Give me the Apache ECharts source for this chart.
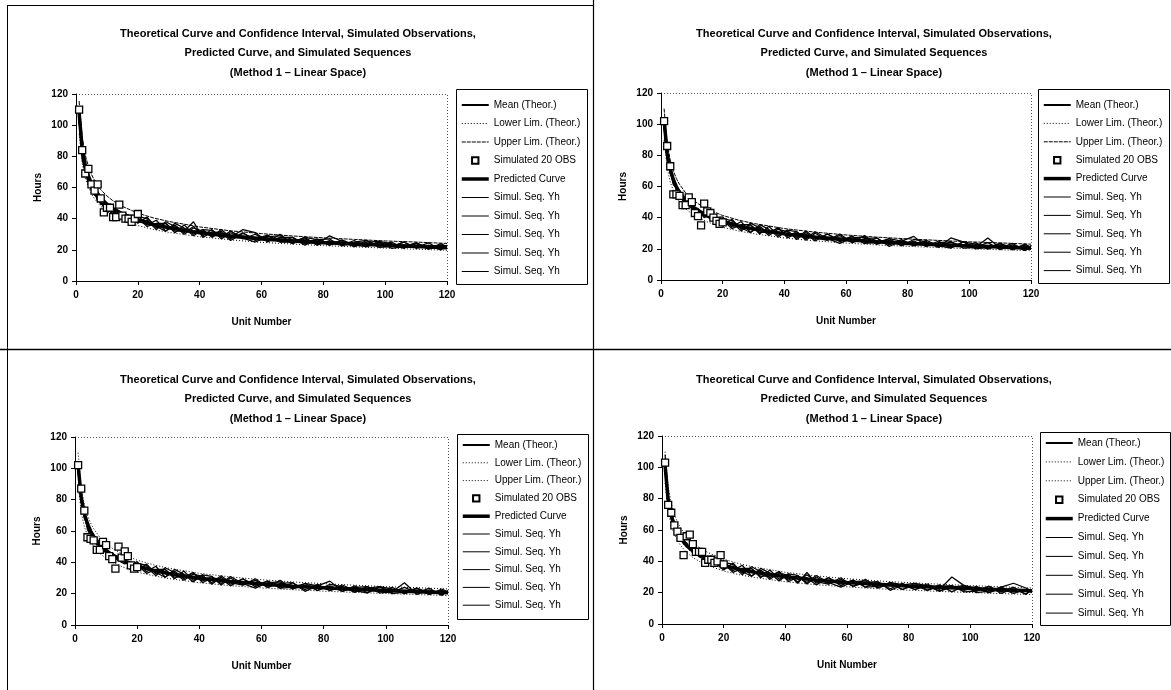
<!DOCTYPE html>
<html><head><meta charset="utf-8">
<script src="https://cdn.jsdelivr.net/npm/echarts@6/dist/echarts.min.js"></script>
<style>html,body{margin:0;padding:0;background:#fff}#c{width:1171px;height:690px}</style>
</head><body><div id="c"></div>
<script>
// ---------- DATA ----------
const xTicks = [0, 20, 40, 60, 80, 100, 120];
const yTicks = [0, 20, 40, 60, 80, 100, 120];
const theoX = [1,2,3,4,5,6,8,10,12,15,20,25,30,40,50,60,70,80,90,100,110,120];
const obsX = [1,2,3,4,5,6,7,8,9,10,11,12,13,14,15,16,17,18,19,20];
const seqX = [1,2,3,4,5,6,7,8,9,10,12,14,16,18,20,23,26,29,32,35,38,41,44,47,50,54,58,62,66,70,74,78,82,86,90,94,98,102,106,110,114,118,120];

const legendLabels = ['Mean (Theor.)','Lower Lim. (Theor.)','Upper Lim. (Theor.)','Simulated 20 OBS','Predicted Curve','Simul. Seq. Yh','Simul. Seq. Yh','Simul. Seq. Yh','Simul. Seq. Yh','Simul. Seq. Yh'];
const chartTitle = 'Theoretical Curve and Confidence Interval, Simulated Observations,\nPredicted Curve, and Simulated Sequences\n(Method 1 \u2013 Linear Space)';

// Panel 1 (top left)
const mean1  = [105,83.8,73.4,66.9,62.2,58.6,53.3,49.6,46.7,43.5,39.5,36.8,34.7,31.5,29.3,27.6,26.3,25.2,24.3,23.4,22.7,21.9];
const lower1 = [94.5,75.4,66.1,60.2,56.0,52.7,48.0,44.6,42.0,39.2,35.6,33.1,31.2,28.4,26.4,24.8,23.7,22.7,21.9,21.1,20.4,19.7];
const upper1 = [115.5,92.2,80.7,73.6,68.4,64.5,58.6,54.6,51.4,47.9,43.5,40.5,38.2,34.7,32.2,30.4,28.9,27.7,26.7,25.7,25.0,24.1];
const pred1  = [108,85,74,67.5,62.5,58.8,53.2,49.3,46.3,43.0,39.0,36.2,34.1,30.9,28.7,27.0,25.7,24.6,23.7,22.9,22.1,21.4];
const obs1   = [110,84,69,72,62,58,62,53,44,47,47,41,41,49,42,40,40,38,40,43];
const seq1a = [108,84,72,66,61,56,55,50,49,46,45,41,42,38, 42,36,39,32,36,31,35,29,33,27,31,27,30,25,30,24,28,23,26,23,26,22,25,22,25,21,23,20,23];
const seq1b = [104,80,70,63,60,57,52,52,47,48,43,43,39,40, 37,41,34,37,31,36,30,33,28,32,27,31,26,29,25,28,24,27,23,26,22,26,22.5,25,21,24,20.5,23,21];
const seq1c = [110,83,74,64,58,55,54,49,50,46,46,40,41,37, 40.5,35,37,37,32,32,38,28,31.5,31,26,30.5,27,29.5,25,25,28,26.5,23,26.5,23,22,25.5,24,21,24.5,21.5,23,22];
const seq1d = [103,78,69,65,62,58,51,51,48,49,44,43,38,39, 37.5,39,33,38,35,30,34,32,28.5,33,28,33,31,25.5,28,28,23,26.5,27,22.5,25,26,21.5,22,25,21.5,24.5,20,23];
const seq1e = [107,81,71,62,59,56,53,50,48,47,42,42,40,37, 41.5,40,35,32,37,34,29,33,32.5,28,32,27.5,25,28.5,29,24,27,23.5,29,25.5,22,25,25.5,21,22,24.5,20.5,24,22];

// Panel 2 (top right)
const mean2  = [100,79.8,69.9,63.7,59.2,55.8,50.8,47.2,44.5,41.4,37.6,35.0,33.0,30.0,27.9,26.3,25.0,24.0,23.1,22.3,21.6,20.9];
const lower2 = [90,71.8,62.9,57.3,53.3,50.2,45.7,42.5,40.1,37.3,33.8,31.5,29.7,27.0,25.1,23.7,22.5,21.6,20.8,20.1,19.4,18.8];
const upper2 = [110,87.8,76.9,70.1,65.1,61.4,55.9,51.9,49.0,45.5,41.4,38.5,36.3,33.0,30.7,28.9,27.5,26.4,25.4,24.5,23.8,23.0];
const pred2  = [103,81,71,64.5,59.8,56.2,51,47.3,44.5,41.3,37.4,34.7,32.7,29.6,27.5,25.9,24.6,23.5,22.6,21.8,21.1,20.4];
const obs2   = [102,86,73,55,55,54,48,48,53,50,43,41,35,49,44,43,40,38,36,37];
const seq2a = [102,81,71,61,60,54,53,49,50,45,45,40,42,37, 34.5,39,32.5,35.5,29.5,34.5,28.5,32,26,30.5,26,29.5,24.5,28,23.5,27,22.5,26,22,24.5,21,24.5,21.5,24,20,22.5,19.5,22,20];
const seq2b = [98,78,68,65,57,57,51,52,47,48,43,43,39,40, 38.5,33,35.5,35.5,30.5,30.5,33.5,27,30,29.5,25,29.5,25.5,28,23.5,24,26.5,25,22,25.5,22,20.5,24.5,23,20,23.5,20.5,22,21];
const seq2c = [104,82,70,63,61,55,54,50,48,47,46,42,41,38, 35.5,37,31.5,36.5,33.5,28.5,32.5,31,27,31.5,27,25.5,29.5,24,26.5,27,21.5,25,28,21.5,24,24.5,20.5,21,27,20.5,23.5,19,22];
const seq2d = [99,77,72,64,58,56,52,51,49,46,44,43,40,39, 39.5,38,33.5,30.5,35.5,32.5,27.5,32,31,26.5,31,26.5,23.5,27,27.5,23,25.5,22,26,24.5,21,27,24.5,20,21,23.5,19.5,23,21];
const seq2e = [100,80,69,62,59,55,53,50,48,48,44,41,40,40, 40.5,34,37.5,30.5,34.5,29.5,33.5,28,31,25.5,30,25.5,28.5,24,28.5,23,26.5,22,25,21.5,25,20.5,24.5,21,24,19.5,22.5,19,22];

// Panel 3 (bottom left)
const mean3  = [100,79.8,69.9,63.7,59.2,55.8,50.8,47.2,44.5,41.4,37.6,35.0,33.0,30.0,27.9,26.3,25.0,24.0,23.1,22.3,21.6,20.9];
const lower3 = [90,71.8,62.9,57.3,53.3,50.2,45.7,42.5,40.1,37.3,33.8,31.5,29.7,27.0,25.1,23.7,22.5,21.6,20.8,20.1,19.4,18.8];
const upper3 = [110,87.8,76.9,70.1,65.1,61.4,55.9,51.9,49.0,45.5,41.4,38.5,36.3,33.0,30.7,28.9,27.5,26.4,25.4,24.5,23.8,23.0];
const pred3  = [102,81.5,71.2,64.8,60,56.5,51.3,47.6,44.8,41.6,37.7,35,32.9,29.9,27.7,26.1,24.8,23.7,22.8,22,21.3,20.6];
const obs3   = [102,87,73,56,55,54,48,48,53,51,44,42,36,50,43,47,44,38,36,37];
const seq3a = [101,79,70,62,59,56,52,50,49,47,45,42,40,39, 38.5,33,35.5,35.5,30.5,30.5,33.5,27,30,29.5,25,29.5,25.5,28,23.5,24,26.5,25,22,25.5,22,20.5,24.5,23,20,23.5,20.5,22,21];
const seq3b = [99,81,69,65,58,55,54,49,48,46,43,43,41,37, 35.5,37,31.5,36.5,33.5,28.5,32.5,31,27,31.5,27,25.5,29.5,24,26.5,27,21.5,25,28,21.5,24,24.5,20.5,21,24,20.5,23.5,19,22];
const seq3c = [103,78,71,63,60,57,51,52,47,48,44,41,39,40, 39.5,38,33.5,30.5,35.5,32.5,27.5,32,31,26.5,31,26.5,23.5,27,27.5,23,25.5,22,26,24.5,21,23.5,24.5,20,21,23.5,19.5,23,21];
const seq3d = [100,80,68,64,61,54,53,51,50,45,46,42,42,38, 40.5,34,37.5,30.5,34.5,29.5,33.5,28,31,25.5,30,25.5,28.5,24,28.5,23,26.5,22,25,21.5,25,20.5,24.5,21,27,19.5,22.5,19,22];
const seq3e = [97,82,72,61,57,56,52,50,48,47,43,44,40,39, 34.5,39,32.5,35.5,29.5,34.5,28.5,32,26,30.5,26,29.5,24.5,28,23.5,27,22.5,26,22,24.5,21,24.5,21.5,24,20,22.5,19.5,22,20];

// Panel 4 (bottom right)
const mean4  = [100,79.8,69.9,63.7,59.2,55.8,50.8,47.2,44.5,41.4,37.6,35.0,33.0,30.0,27.9,26.3,25.0,24.0,23.1,22.3,21.6,20.9];
const lower4 = [90,71.8,62.9,57.3,53.3,50.2,45.7,42.5,40.1,37.3,33.8,31.5,29.7,27.0,25.1,23.7,22.5,21.6,20.8,20.1,19.4,18.8];
const upper4 = [110,87.8,76.9,70.1,65.1,61.4,55.9,51.9,49.0,45.5,41.4,38.5,36.3,33.0,30.7,28.9,27.5,26.4,25.4,24.5,23.8,23.0];
const pred4  = [101,79,69,62.5,58,54.8,50,46.6,44,41,37.4,34.9,33,30.1,28.1,26.5,25.3,24.3,23.4,22.6,21.9,21.2];
const obs4   = [103,76,71,63,59,55,44,56,57,51,46,46,46,39,41,41,39,40,44,38];
const seq4a = [108,80,70,63,59,55,53,51,48,47,45,42,41,39, 35.5,37,31.5,36.5,33.5,28.5,32.5,31,27,31.5,27,25.5,29.5,24,26.5,27,21.5,25,26,21.5,24,24.5,20.5,21,24,20.5,23.5,19,22];
const seq4b = [100,79,71,64,58,57,52,50,49,46,44,43,39,39, 40.5,34,37.5,30.5,34.5,29.5,33.5,28,31,25.5,30,25.5,28.5,24,28.5,23,26.5,22,25,21.5,25,20.5,24.5,21,24,19.5,22.5,19,22];
const seq4c = [102,82,68,62,60,55,54,49,50,48,43,41,42,38, 34.5,39,32.5,35.5,29.5,34.5,28.5,32,26,33,26,29.5,24.5,28,23.5,27,22.5,26,22,24.5,21,24.5,21.5,24,20,22.5,19.5,22,20];
const seq4d = [99,78,72,65,57,56,51,52,47,47,46,43,40,40, 38.5,33,35.5,35.5,30.5,30.5,33.5,27,30,29.5,25,29.5,25.5,28,23.5,24,26.5,25,22,25.5,22,30,24.5,23,20,23.5,20.5,22,21];
const seq4e = [101,80,69,63,61,54,53,50,49,45,44,42,40,37, 39.5,38,33.5,30.5,35.5,32.5,27.5,32,31,26.5,31,26.5,23.5,27,27.5,23,25.5,22,26,24.5,21,23.5,24.5,20,21,23.5,26,23,21];

// ---------- LAYOUT ----------
const FONT = '"Liberation Sans",Arial,sans-serif';
const panels = [
  {grid:{left:76,top:94,width:371,height:187}, box:[456,89,131,195], lg:[99,6.5], tx:298, ty:24, upperDash:[4,1],
   mean:mean1, lower:lower1, upper:upper1, pred:pred1, obs:obs1, seqs:[seq1a,seq1b,seq1c,seq1d,seq1e]},
  {grid:{left:661,top:93,width:370,height:187}, box:[1038,89,131,194], lg:[99,6.4], tx:874, ty:24, upperDash:[4,1],
   mean:mean2, lower:lower2, upper:upper2, pred:pred2, obs:obs2, seqs:[seq2a,seq2b,seq2c,seq2d,seq2e]},
  {grid:{left:75,top:437,width:373,height:188}, box:[457,434,131,185], lg:[439,5.8], tx:298, ty:370, upperDash:[1,2],
   mean:mean3, lower:lower3, upper:upper3, pred:pred3, obs:obs3, seqs:[seq3a,seq3b,seq3c,seq3d,seq3e]},
  {grid:{left:662,top:436,width:370,height:188}, box:[1040,432,130,193], lg:[437,6.9], tx:874, ty:370, upperDash:[1,2],
   mean:mean4, lower:lower4, upper:upper4, pred:pred4, obs:obs4, seqs:[seq4a,seq4b,seq4c,seq4d,seq4e]}
];

const pairs = (xs, ys) => ys.map((y, i) => [xs[i], y]);
const grids = [], xAxes = [], yAxes = [], series = [], legends = [], titles = [], graphics = [];
const txt = {color:'#000', fontFamily:FONT, fontWeight:'bold'};

panels.forEach((P, p) => {
  grids.push(Object.assign({outerBoundsMode:'none', containLabel:false}, P.grid));
  xAxes.push({type:'value', gridIndex:p, min:xTicks[0], max:xTicks[xTicks.length-1], interval:xTicks[1]-xTicks[0],
    axisLine:{onZero:false, lineStyle:{color:'#000', width:1}}, axisTick:{length:4, lineStyle:{color:'#000'}},
    splitLine:{show:false}, axisLabel:Object.assign({fontSize:10, margin:9}, txt),
    name:'Unit Number', nameLocation:'middle', nameGap:36, nameTextStyle:Object.assign({fontSize:10}, txt)});
  yAxes.push({type:'value', gridIndex:p, min:yTicks[0], max:yTicks[yTicks.length-1], interval:yTicks[1]-yTicks[0],
    axisLine:{onZero:false, lineStyle:{color:'#000', width:1}}, axisTick:{length:4, lineStyle:{color:'#000'}},
    splitLine:{show:false}, axisLabel:Object.assign({fontSize:10, margin:8}, txt),
    name:'Hours', nameLocation:'middle', nameGap:33, nameRotate:90, nameTextStyle:Object.assign({fontSize:10}, txt)});

  const nm = k => legendLabels[k] + '#' + p + '_' + k;
  const base = {type:'line', xAxisIndex:p, yAxisIndex:p, symbol:'none', silent:true, animation:false};
  P.seqs.forEach((s, j) => {
    series.push(Object.assign({}, base, {name:nm(5+j), data:pairs(seqX, s), z:2,
      lineStyle:{color:'#000', width:1.25}, itemStyle:{color:'#000'}}));
  });
  series.push(Object.assign({}, base, {name:nm(0), data:pairs(theoX, P.mean), z:3,
    lineStyle:{color:'#000', width:2}, itemStyle:{color:'#000'}}));
  series.push(Object.assign({}, base, {name:nm(1), data:pairs(theoX, P.lower), z:3,
    lineStyle:{color:'#000', width:1, type:[1,2]}, itemStyle:{color:'#000'}}));
  series.push(Object.assign({}, base, {name:nm(2), data:pairs(theoX, P.upper), z:3,
    lineStyle:{color:'#000', width:1, type:P.upperDash}, itemStyle:{color:'#000'}}));
  series.push(Object.assign({}, base, {name:nm(4), data:pairs(theoX, P.pred), z:4,
    lineStyle:{color:'#000', width:3.5}, itemStyle:{color:'#000'}}));
  series.push(Object.assign({}, base, {name:nm(3), data:pairs(obsX, P.obs), z:5,
    symbol:'rect', symbolSize:7, showSymbol:true,
    lineStyle:{color:'#000', width:0, opacity:0},
    itemStyle:{color:'#fff', borderColor:'#000', borderWidth:1.3}}));

  const legendLine = [
    {width:2, type:'solid'}, {width:1, type:[1,2]}, {width:1, type:P.upperDash}, null,
    {width:3.5, type:'solid'}, {width:1, type:'solid'}, {width:1, type:'solid'}, {width:1, type:'solid'},
    {width:1, type:'solid'}, {width:1, type:'solid'}];
  legends.push({orient:'vertical', left:P.box[0]+4, top:P.lg[0], itemWidth:27, itemHeight:8, itemGap:P.lg[1],
    padding:0, selectedMode:false,
    textStyle:{color:'#000', fontFamily:FONT, fontSize:10, lineHeight:12},
    formatter: n => n.split('#')[0],
    data: legendLabels.map((_, k) => {
      const d = {name:nm(k)};
      if (k === 3) d.lineStyle = {opacity:0, width:0};
      else { d.itemStyle = {opacity:0}; d.lineStyle = Object.assign({color:'#000'}, legendLine[k]); }
      return d;
    })});

  titles.push({text:chartTitle, left:P.tx, top:P.ty, textAlign:'center', padding:0,
    textStyle:{color:'#000', fontFamily:FONT, fontWeight:'bold', fontSize:11, lineHeight:19.5}});

  graphics.push({type:'rect', silent:true, shape:{x:P.box[0]+0.5, y:P.box[1]+0.5, width:P.box[2], height:P.box[3]},
    style:{fill:'none', stroke:'#000', lineWidth:1}});
  const g = P.grid;
  graphics.push({type:'polyline', silent:true, shape:{points:[[g.left, g.top+0.5],[g.left+g.width+0.5, g.top+0.5],[g.left+g.width+0.5, g.top+g.height]]},
    style:{fill:'none', stroke:'#555', lineWidth:1, lineDash:[1,2]}});
});

graphics.push({type:'line', silent:true, shape:{x1:7.5, y1:5, x2:7.5, y2:690}, style:{stroke:'#000', lineWidth:1}});
graphics.push({type:'line', silent:true, shape:{x1:7, y1:5.5, x2:593, y2:5.5}, style:{stroke:'#000', lineWidth:1}});
graphics.push({type:'line', silent:true, shape:{x1:593.5, y1:0, x2:593.5, y2:690}, style:{stroke:'#000', lineWidth:1.2}});
graphics.push({type:'line', silent:true, shape:{x1:0, y1:349.5, x2:1171, y2:349.5}, style:{stroke:'#000', lineWidth:1.4}});

const chart = echarts.init(document.getElementById('c'), null, {renderer:'canvas'});
chart.setOption({
  backgroundColor:'#fff', animation:false,
  title:titles, grid:grids, xAxis:xAxes, yAxis:yAxes, legend:legends, series:series,
  graphic:{elements:graphics}
});
</script></body></html>
